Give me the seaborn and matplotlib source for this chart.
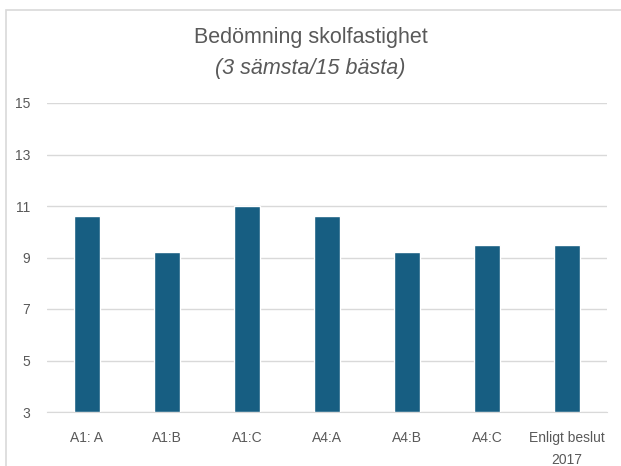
import matplotlib
matplotlib.use('Agg')
import matplotlib.pyplot as plt
import seaborn as sns
import pandas as pd
from matplotlib.patches import Rectangle

categories = ['A1: A', 'A1:B', 'A1:C', 'A4:A', 'A4:B', 'A4:C', 'Enligt beslut\n2017']
values = [10.6, 9.2, 11.0, 10.6, 9.2, 9.5, 9.5]
yticks = [3, 5, 7, 9, 11, 13, 15]

df = pd.DataFrame({'cat': categories, 'val': values})

sns.set_style('white')
plt.rcParams['font.family'] = ['Liberation Sans', 'DejaVu Sans']

fig = plt.figure(figsize=(6.21, 4.66), dpi=100)
ax = fig.add_axes([47 / 621, 1 - 412 / 466, 560 / 621, 309 / 466])

sns.barplot(data=df, x='cat', y='val', color='#175E82', width=0.32,
            saturation=1, ax=ax, zorder=3)
# bars start at the axis bottom (3), not at 0
for p in ax.patches:
    p.set_y(3)
    p.set_height(p.get_height() - 3)

ax.set_ylim(3, 15)
ax.set_yticks(yticks)
ax.set_xlim(-0.5, len(categories) - 0.5)
ax.yaxis.grid(True, color='#d9d9d9', linewidth=1, zorder=0)
for s in ['left', 'right', 'top']:
    ax.spines[s].set_visible(False)
ax.spines['bottom'].set_color('#d9d9d9')
ax.tick_params(axis='x', length=0, labelsize=10, labelcolor='#595959', pad=14)
ax.tick_params(axis='y', length=0, labelsize=10, labelcolor='#595959', pad=12)
for lbl in ax.get_xticklabels():
    lbl.set_linespacing(1.7)
ax.set_xlabel('')
ax.set_ylabel('')

fig.text(0.5, 1 - 38 / 466, 'Bedömning skolfastighet', ha='center', va='center',
         fontsize=15.5, color='#595959')
fig.text(0.5, 1 - 68 / 466, '(3 sämsta/15 bästa)', ha='center', va='center',
         fontsize=15.5, color='#595959', style='italic')

fig.patches.append(Rectangle((6 / 621, -0.1), 1.1, 1 - 10 / 466 + 0.1,
                             transform=fig.transFigure, fill=False,
                             edgecolor='#d9d9d9', linewidth=1.2))

fig.savefig('out.png', dpi=100)
